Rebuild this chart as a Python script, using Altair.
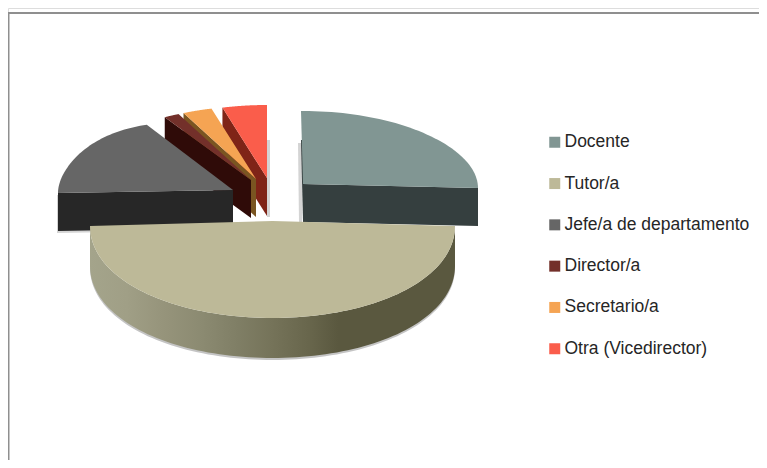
import math
import altair as alt

# ---- data (share of the pie, %) ----
labels = ["Docente", "Tutor/a", "Jefe/a de departamento", "Director/a", "Secretario/a", "Otra (Vicedirector)"]
shares = [25.0, 50.0, 16.8, 1.4, 2.7, 4.1]
top_colors = ["#819693", "#bdb998", "#666666", "#73302a", "#f5a453", "#fa5d4b"]
wall_colors = ["#353f3f", "#5a583f", "#272727", "#2f0b08", "#7a5521", "#7f2417"]

# ---- layout of the exploded slices: apex x, apex y, rx, ry, sag, bulge ----
ORIGIN = 8
apex_x = [303, 272.5, 233, 251, 256, 267]
apex_y = [184, 221, 190, 180, 179, 178]
radius_x = [175, 182.5, 175, 175, 175, 175]
radius_y = [73, 97, 70, 73, 73, 73]
sag = [4, 5, 3, 3, 3, 3]
bulge = [0, 0, 7, 0, 0, 0]
DEPTH = 38
TUTOR_DEPTH = 40

W, H = 751, 452


def point(i, deg):
    t = math.radians(deg)
    x = apex_x[i] + radius_x[i] * math.sin(t)
    y = (apex_y[i] - radius_y[i] * math.cos(t) + sag[i] * math.sin(t) ** 2
         - bulge[i] * math.sin(2 * t) ** 2)
    return [x - ORIGIN, y - ORIGIN]


def apex(i):
    return [apex_x[i] - ORIGIN, apex_y[i] - ORIGIN]


def arc(i, a0, a1, n=48):
    return [point(i, a0 + (a1 - a0) * k / n) for k in range(n + 1)]


def down(pts, d, dx=0):
    return [[p[0] + dx, p[1] + d] for p in pts]


def feature(ring, **props):
    ring = ring + [ring[0]]
    return {"type": "Feature", "properties": props,
            "geometry": {"type": "Polygon", "coordinates": [ring]}}


def wall_ring(edge, d):
    return edge + down(edge, d)[::-1]


PROJ = dict(type="identity", scale=1, translate=[0, 0])


def fixed(ring, color=None, **mark):
    if color is not None:
        mark["fill"] = color
    return (alt.Chart(alt.Data(values=[feature(ring)]))
            .mark_geoshape(stroke=None, **mark)
            .project(**PROJ))


color_scale = alt.Scale(domain=labels, range=top_colors)
legend = alt.Legend(
    title=None, orient="none", legendX=538, legendY=125.5,
    symbolType="square", symbolSize=121, symbolStrokeWidth=0,
    labelFont="Liberation Sans", labelFontSize=17.5, labelColor="#262626",
    labelOffset=1, rowPadding=22.3, labelLimit=260,
)


def top_face(i, ring):
    return (alt.Chart(alt.Data(values=[feature(ring, label=labels[i])]))
            .mark_geoshape(stroke=None)
            .encode(color=alt.Color("properties.label:N", scale=color_scale,
                                    legend=legend, sort=labels))
            .project(**PROJ))


# cumulative angles, clockwise from 12 o'clock
starts, ends = [], []
acc = 0.0
for s in shares:
    starts.append(acc * 3.6)
    acc += s
    ends.append(acc * 3.6)

layers = []

# frame
layers.append(alt.Chart(alt.Data(values=[{"a": 1}])).mark_rule(color="#8f8f8f", strokeWidth=2)
              .encode(x=alt.value(0), x2=alt.value(W), y=alt.value(5)))
layers.append(alt.Chart(alt.Data(values=[{"a": 1}])).mark_rule(color="#8f8f8f", strokeWidth=2)
              .encode(x=alt.value(0.5), y=alt.value(5), y2=alt.value(H)))

# soft side shadows
i_doc, i_tut, i_jef, i_dir, i_sec, i_otr = range(6)
SHADOW = "#d4d4d4"
doc = apex(i_doc)
layers.append(fixed([[doc[0] - 5, doc[1] - 41], [doc[0] - 1, doc[1] - 41],
                     [doc[0] - 1, doc[1] + DEPTH + 1], [doc[0] - 4, doc[1] + DEPTH + 1]], SHADOW))
otr = apex(i_otr)
layers.append(fixed([[otr[0], otr[1] - 38], [otr[0] + 3, otr[1] - 38],
                     [otr[0] + 3, otr[1] + DEPTH + 1], [otr[0], otr[1] + DEPTH + 1]], SHADOW))
jef_edge = [point(i_jef, 270), apex(i_jef)]
layers.append(fixed(wall_ring(down(jef_edge, 2, -1), DEPTH), SHADOW))
tut_outer = arc(i_tut, 90, 270, 96)
layers.append(fixed(wall_ring(down(tut_outer, 2, 0), TUTOR_DEPTH), "#c4c4c4"))

# slices, back to front
for i in [i_otr, i_sec, i_dir, i_jef]:
    edge = [point(i, starts[i]), apex(i)]
    if i == i_jef:
        edge = [point(i, 270), apex(i)]
    layers.append(fixed(wall_ring(edge, DEPTH), wall_colors[i]))
    ring = [apex(i)] + arc(i, starts[i], ends[i])
    layers.append(top_face(i, ring))

# Docente: a dark sliver on its left side, the front wall, then the top
layers.append(fixed([[doc[0] - 2, doc[1] - 44], [doc[0] + 1, doc[1] - 44],
                     [doc[0] + 1, doc[1] + DEPTH], [doc[0], doc[1] + DEPTH]], wall_colors[i_doc]))
edge = [apex(i_doc), point(i_doc, 90)]
layers.append(fixed(wall_ring(edge, DEPTH), wall_colors[i_doc]))
layers.append(fixed([[doc[0] - 2, doc[1] - 73], [doc[0] + 1, doc[1] - 73], doc], top_colors[i_doc]))
layers.append(top_face(i_doc, [apex(i_doc)] + arc(i_doc, 0, 90)))

# Tutor/a: rim with a gradient, then its top
rim_stops = [
    (0.00, "#a4a48b"), (0.10, "#a09f86"), (0.20, "#96947b"), (0.30, "#8c8b72"),
    (0.40, "#807f66"), (0.50, "#757359"), (0.60, "#68664c"), (0.68, "#5a583f"), (1.00, "#5a583f"),
]
rim_fill = alt.Gradient(gradient="linear", x1=0, x2=1, y1=0, y2=0,
                        stops=[alt.GradientStop(offset=o, color=c) for o, c in rim_stops])
layers.append(fixed(wall_ring(tut_outer, TUTOR_DEPTH), fill=rim_fill))
layers.append(top_face(i_tut, [apex(i_tut)] + tut_outer))

chart = (
    alt.layer(*layers)
    .properties(width=W, height=H, padding=0, autosize=alt.AutoSizeParams(type="none"))
    .configure_view(stroke=None)
    .configure(background="#ffffff")
)
chart.save("out.html", embed_options={"renderer": "svg", "actions": False})
